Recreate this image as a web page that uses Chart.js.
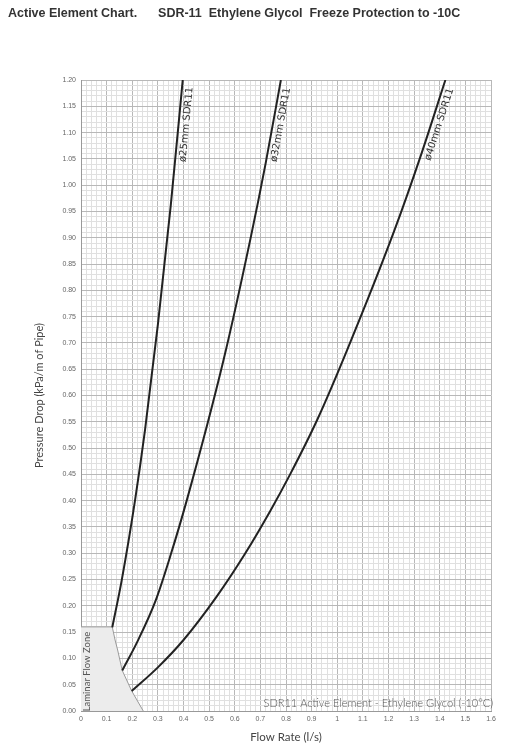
<!DOCTYPE html>
<html>
<head>
<meta charset="utf-8">
<script src="https://cdn.jsdelivr.net/npm/chart.js@4.4.1/dist/chart.umd.min.js"></script>
<style>
  html, body { margin: 0; padding: 0; background: #fff; }
  #wrap { position: absolute; left: 0; top: 0; width: 508px; height: 750px; }
  #title {
    position: absolute; left: 8px; top: 6px; white-space: pre;
    font: bold 12.5px "Liberation Sans", Arial, sans-serif; color: #333;
  }
</style>
</head>
<body>
<div id="wrap"><canvas id="chartPressure"></canvas></div>
<div id="title">Active Element Chart.      SDR-11  Ethylene Glycol  Freeze Protection to -10C</div>
<script>
// values (flow l/s, pressure drop kPa/m)
var pipeNames = ["ø25mm SDR11", "ø32mm SDR11", "ø40mm SDR11"];

var flow25 = [0.122, 0.159, 0.211, 0.25, 0.3, 0.35, 0.397];
var drop25 = [0.159, 0.249, 0.401, 0.535, 0.735, 0.96, 1.2];

var flow32 = [0.161, 0.22, 0.292, 0.35, 0.413, 0.556, 0.66, 0.72, 0.78];
var drop32 = [0.077, 0.132, 0.211, 0.297, 0.401, 0.667, 0.895, 1.04, 1.2];

var flow40 = [0.198, 0.3, 0.4, 0.53, 0.64, 0.738, 0.816, 0.921, 1.038, 1.223, 1.33, 1.422];
var drop40 = [0.038, 0.083, 0.135, 0.218, 0.299, 0.38, 0.45, 0.553, 0.686, 0.914, 1.062, 1.2];

var laminarFlow = [0, 0.122, 0.133, 0.143, 0.161, 0.198, 0.243];
var laminarDrop = [0.16, 0.16, 0.135, 0.116, 0.077, 0.038, 0];

var xMax = 1.6;
var yMax = 1.2;

function toPoints(xs, ys) {
  return xs.map(function (x, i) { return { x: x, y: ys[i] }; });
}

function isMajor(v, per) {
  return Math.abs(v * per - Math.round(v * per)) < 1e-6;
}

var pipeCurves = [
  { flow: flow25, drop: drop25 },
  { flow: flow32, drop: drop32 },
  { flow: flow40, drop: drop40 },
];

var chartLabels = {
  id: "chartLabels",
  afterDatasetsDraw: function (chart) {
    var ctx = chart.ctx;
    var xs = chart.scales.x;
    var ys = chart.scales.y;
    var area = chart.chartArea;
    ctx.save();

    // pipe names along the top of each curve
    ctx.font = "10px 'DejaVu Sans'";
    ctx.fillStyle = "#333";
    ctx.textAlign = "center";
    ctx.textBaseline = "middle";
    pipeCurves.forEach(function (c, i) {
      var n = c.flow.length;
      var x1 = xs.getPixelForValue(c.flow[n - 2]), y1 = ys.getPixelForValue(c.drop[n - 2]);
      var x2 = xs.getPixelForValue(c.flow[n - 1]), y2 = ys.getPixelForValue(c.drop[n - 1]);
      var a = Math.atan2(y2 - y1, x2 - x1);
      ctx.save();
      ctx.translate(x2 - Math.cos(a) * 44, y2 - Math.sin(a) * 44);
      ctx.rotate(a);
      ctx.fillText(pipeNames[i], 0, 8);
      ctx.restore();
    });

    // laminar zone label
    ctx.save();
    ctx.font = "9.5px Lato";
    ctx.fillStyle = "#555";
    ctx.translate(xs.getPixelForValue(0.024), ys.getPixelForValue(0.075));
    ctx.rotate(-Math.PI / 2);
    ctx.fillText("Laminar Flow Zone", 0, 0);
    ctx.restore();

    // note in the bottom right corner
    ctx.font = "300 11px Lato";
    ctx.fillStyle = "#555";
    ctx.textAlign = "right";
    ctx.textBaseline = "alphabetic";
    ctx.fillText("SDR11 Active Element - Ethylene Glycol (-10°C)", area.right + 2, area.bottom - 4);
    ctx.restore();
  },
};

var ctx = document.getElementById("chartPressure");
var chartPressure = new Chart(ctx, {
  type: "line",
  data: {
    datasets: [
      {
        label: pipeNames[0],
        data: toPoints(flow25, drop25),
        borderColor: "#222",
        borderWidth: 2,
        pointRadius: 0,
        cubicInterpolationMode: "monotone",
      },
      {
        label: pipeNames[1],
        data: toPoints(flow32, drop32),
        borderColor: "#222",
        borderWidth: 2,
        pointRadius: 0,
        cubicInterpolationMode: "monotone",
      },
      {
        label: pipeNames[2],
        data: toPoints(flow40, drop40),
        borderColor: "#222",
        borderWidth: 2,
        pointRadius: 0,
        cubicInterpolationMode: "monotone",
      },
      {
        label: "Laminar Flow Zone",
        data: toPoints(laminarFlow, laminarDrop),
        borderColor: "#9a9a9a",
        borderWidth: 1,
        backgroundColor: "#ececec",
        fill: "origin",
        pointRadius: 0,
        tension: 0,
      },
    ],
  },
  options: {
    responsive: true,
    maintainAspectRatio: false,
    animation: false,
    layout: { padding: { top: 80, right: 17, bottom: 0, left: 0 } },
    plugins: {
      legend: { display: false },
      tooltip: { enabled: false },
    },
    scales: {
      x: {
        type: "linear",
        min: 0,
        max: xMax,
        afterFit: function (scale) { scale.height = 39; },
        border: { color: "#999" },
        grid: {
          drawTicks: false,
          color: function (c) { return isMajor(c.tick.value, 10) ? "#b8b8b8" : "#e0e0e0"; },
        },
        ticks: {
          stepSize: 0.02,
          autoSkip: false,
          maxRotation: 0,
          padding: 4,
          color: "#666",
          font: { family: "Liberation Sans", size: 7 },
          callback: function (v) {
            return isMajor(v, 10) ? String(parseFloat(v.toFixed(1))) : "";
          },
        },
        title: {
          display: true,
          text: "Flow Rate (l/s)",
          color: "#444",
          font: { family: "Lato", size: 11.5 },
          padding: { top: 0, bottom: 6 },
        },
      },
      y: {
        type: "linear",
        min: 0,
        max: yMax,
        afterFit: function (scale) { scale.width = 81; },
        border: { color: "#999" },
        grid: {
          drawTicks: false,
          color: function (c) { return isMajor(c.tick.value, 20) ? "#b8b8b8" : "#e0e0e0"; },
        },
        ticks: {
          stepSize: 0.01,
          autoSkip: false,
          padding: 5,
          color: "#666",
          font: { family: "Liberation Sans", size: 7 },
          callback: function (v) {
            return isMajor(v, 20) ? v.toFixed(2) : "";
          },
        },
        title: {
          display: true,
          text: "Pressure Drop (kPa/m of Pipe)",
          color: "#444",
          font: { family: "Lato", size: 11 },
          padding: { top: 33, bottom: 0 },
        },
      },
    },
  },
  plugins: [chartLabels],
});
</script>
</body>
</html>
